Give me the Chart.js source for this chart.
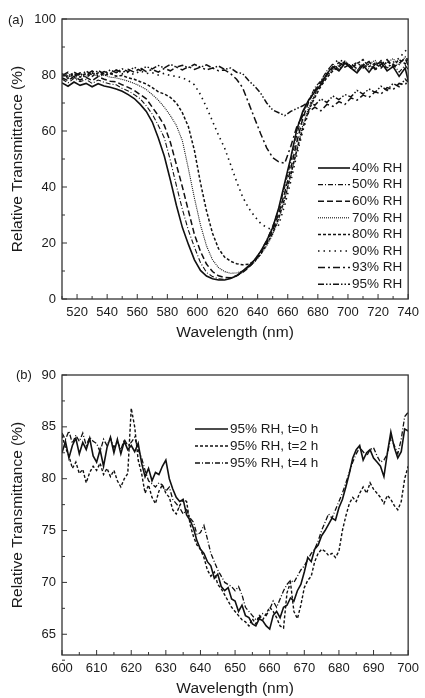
<!DOCTYPE html>
<html>
<head>
<meta charset="utf-8">
<script src="https://cdn.jsdelivr.net/npm/chart.js@4.4.0/dist/chart.umd.min.js"></script>
<style>
  html,body{margin:0;padding:0;background:#fff;}
  .panel{position:absolute;left:0;width:425px;}
  #wrapA{top:0;height:345px;}
  #wrapB{top:345px;height:353px;}
</style>
</head>
<body>
<div class="panel" id="wrapA"><canvas id="chartA"></canvas></div>
<div class="panel" id="wrapB"><canvas id="chartB"></canvas></div>
<script>
// ---- (a) transmittance vs wavelength at different RH ----
const waveA = [510,514,518,522,526,530,534,538,542,546,550,554,558,562,566,570,574,578,582,586,
  590,594,598,602,606,610,614,618,622,626,630,634,638,642,646,650,654,658,662,666,
  670,674,678,682,686,690,694,698,702,706,710,714,718,722,726,730,734,738,740];

const rh40 = [77.2,76.0,77.5,76.3,77.0,75.8,76.9,76.1,75.6,75.0,74.2,73.0,71.6,69.5,67.0,63.2,57.5,51.0,42.5,33.5,
  25.5,19.5,14.0,10.2,8.2,7.2,6.8,6.8,7.3,8.3,10.0,11.8,14.0,17.0,20.8,25.5,32.5,41.5,50.5,60.5,
  67.0,71.2,74.0,76.5,80.5,83.0,81.5,84.2,82.5,80.8,83.5,81.0,83.8,84.5,81.5,83.0,79.5,82.5,78.0];
const rh50 = [78.5,77.2,78.8,77.6,78.4,77.0,78.2,77.4,76.8,76.5,75.2,74.3,73.0,71.5,69.0,66.0,62.0,57.5,49.5,40.5,
  32.0,24.5,18.5,13.0,9.5,8.0,7.2,7.0,7.4,8.2,9.6,11.5,14.0,17.0,21.0,26.0,32.0,40.0,49.0,58.5,
  66.5,71.0,75.5,78.0,81.5,84.0,82.0,84.8,83.2,81.5,84.2,82.0,82.8,85.2,82.5,84.0,81.0,83.5,82.0];
const rh60 = [79.0,78.0,79.5,78.2,79.2,78.0,79.4,78.5,77.8,77.6,76.5,75.6,74.5,73.0,71.5,68.5,65.5,62.0,56.0,48.0,
  40.0,31.5,23.0,17.0,12.5,9.8,8.3,7.7,7.6,8.3,9.5,11.2,13.5,16.5,20.0,24.5,30.5,38.0,46.5,56.0,
  64.5,70.5,74.5,77.5,80.0,82.5,84.5,82.8,84.0,82.2,83.5,84.8,82.0,83.8,85.5,82.8,84.2,86.0,83.5];
const rh70 = [79.5,80.5,79.0,80.2,79.4,80.6,79.5,80.0,79.2,79.0,78.4,77.8,77.0,76.0,74.8,73.0,71.0,68.5,65.5,62.0,
  56.5,46.5,36.0,26.5,19.0,14.0,11.2,9.8,9.2,9.3,10.0,11.3,13.2,15.8,19.0,23.0,28.5,35.5,44.0,53.5,
  62.0,68.5,73.0,76.5,79.5,82.0,83.5,85.0,83.2,84.5,82.5,84.0,85.2,83.0,84.5,85.8,83.5,86.5,85.0];
const rh80 = [80.0,78.8,80.4,79.2,80.6,79.5,80.8,79.8,80.5,79.6,79.8,79.0,78.5,77.6,76.8,75.5,74.0,73.2,72.0,70.0,
  66.5,61.5,53.0,41.5,31.5,23.5,18.0,15.0,13.5,12.6,12.2,12.4,13.6,16.0,19.5,23.5,29.0,36.0,44.5,53.0,
  61.0,67.5,72.0,76.0,79.0,81.5,83.0,84.8,82.5,84.0,85.5,83.0,84.2,82.5,84.8,83.5,85.5,84.0,86.0];
const rh90 = [78.5,79.8,78.2,80.5,79.0,80.8,79.6,81.0,80.2,81.2,80.4,81.0,80.2,81.5,80.5,80.8,80.0,80.6,79.8,79.5,
  79.0,78.0,76.5,73.0,68.5,63.5,58.5,54.0,48.0,42.0,36.5,32.5,29.5,27.0,25.5,24.8,26.5,33.5,42.0,51.5,
  60.0,67.0,73.0,77.5,81.0,84.0,85.5,84.5,83.0,84.5,82.5,84.0,81.8,83.5,82.5,84.5,86.0,88.5,89.5];
const rh93 = [79.8,81.0,79.5,80.8,80.0,81.5,80.2,81.2,80.5,81.8,80.8,82.0,81.0,82.5,81.2,82.0,81.0,82.4,81.5,82.8,
  81.8,83.0,82.0,82.8,81.8,82.5,81.5,81.8,80.5,78.5,75.5,70.0,64.5,59.0,54.0,50.5,49.0,48.5,54.5,61.5,
  65.5,66.8,68.5,67.2,69.5,68.8,70.5,69.5,71.8,71.0,72.8,72.0,74.0,73.2,75.5,74.8,77.0,76.5,78.0];
const rh95 = [80.5,79.2,81.0,79.8,81.4,80.0,81.6,80.4,81.8,80.8,82.2,81.2,82.8,81.6,83.0,82.2,83.4,82.5,83.8,82.8,
  83.5,82.6,83.8,82.8,83.6,82.5,83.2,82.0,82.5,81.0,80.5,78.0,76.0,73.5,70.0,67.5,66.5,65.5,67.0,68.0,
  69.0,70.5,69.2,71.5,70.2,72.5,71.2,73.0,72.2,74.5,73.2,75.0,73.8,76.0,74.5,77.0,75.8,78.5,77.5];

const labelsA = ['40% RH','50% RH','60% RH','70% RH','80% RH','90% RH','93% RH','95% RH'];
const xTicksA = [520,540,560,580,600,620,640,660,680,700,720,740];
const xMinorA = [510,530,550,570,590,610,630,650,670,690,710,730];
const yTicksA = [0,20,40,60,80,100];
const yMinorA = [10,30,50,70,90];

// ---- (b) 95% RH held for 0, 2 and 4 h ----
const waveB = [600,601,602,603,604,605,606,607,608,609,610,611,612,613,614,615,616,617,618,619,
  620,621,622,623,624,625,626,627,628,629,630,631,632,633,634,635,636,637,638,639,
  640,641,642,643,644,645,646,647,648,649,650,651,652,653,654,655,656,657,658,659,
  660,661,662,663,664,665,666,667,668,669,670,671,672,673,674,675,676,677,678,679,
  680,681,682,683,684,685,686,687,688,689,690,691,692,693,694,695,696,697,698,699,700];

const t0h = [82.5,83.6,82.0,83.2,83.9,82.4,83.5,82.8,83.9,82.2,81.6,82.8,81.2,83.0,84.0,82.5,83.8,82.4,83.6,82.8,
  83.2,82.6,83.4,81.5,80.2,81.0,79.8,80.6,80.4,81.2,81.8,80.0,79.0,78.2,77.8,78.0,76.5,76.0,75.2,74.0,
  73.2,72.8,72.0,71.6,70.4,70.8,69.6,69.2,69.5,68.4,68.2,67.2,67.8,66.8,66.6,66.0,65.8,66.5,66.3,65.8,
  65.5,66.8,67.2,66.6,67.6,67.8,68.5,68.2,69.2,69.8,71.0,72.4,72.0,73.2,73.6,74.5,75.0,75.6,76.2,76.0,
  77.2,78.0,79.2,80.5,82.0,82.8,83.2,81.8,82.5,82.8,82.0,81.6,81.2,80.2,82.5,84.5,83.0,82.0,82.6,84.8,84.6];
const t2h = [84.2,83.0,82.2,81.0,81.6,80.5,80.9,79.6,80.6,81.2,80.8,81.5,80.4,81.0,80.2,80.8,79.8,79.2,80.0,80.5,
  86.8,85.0,81.8,80.5,78.6,79.4,78.2,77.6,78.8,79.4,78.6,78.2,77.0,76.6,77.4,78.0,77.8,75.6,74.4,73.6,
  73.2,72.4,71.2,70.6,71.0,69.8,69.4,68.8,68.2,67.6,67.2,66.8,66.4,66.2,65.8,66.5,66.0,66.8,66.4,67.0,
  67.6,67.2,66.6,65.8,65.6,69.0,70.0,67.2,66.5,67.8,69.5,70.2,70.6,72.0,72.8,73.2,73.0,72.6,72.8,72.4,
  73.0,75.0,76.4,77.6,78.2,77.8,78.6,79.2,78.6,79.6,79.0,78.6,78.2,77.6,78.4,78.0,77.4,77.0,77.8,80.0,81.2];
const t4h = [84.4,83.8,84.6,83.4,84.2,83.6,84.4,83.2,84.0,83.6,83.4,82.6,83.8,83.2,83.9,83.0,83.6,82.8,83.8,83.2,
  83.5,84.0,82.8,82.0,80.8,79.8,79.5,79.2,79.6,79.4,78.8,79.2,78.0,77.6,77.2,76.6,77.0,76.2,75.8,74.6,
  74.8,75.5,74.2,72.8,72.0,71.2,70.6,70.0,69.8,69.6,69.2,69.6,68.8,67.6,67.2,66.8,66.4,66.6,67.0,66.8,
  67.4,68.2,67.6,68.4,69.2,69.8,70.2,70.0,70.6,71.2,71.6,72.2,72.8,73.2,74.0,75.0,75.8,76.6,76.2,77.0,
  77.8,78.6,79.6,80.6,81.6,82.4,83.0,82.6,82.2,82.8,83.0,82.2,81.6,81.8,82.4,84.0,83.2,82.4,83.8,86.0,86.4];

const labelsB = ['95% RH, t=0 h','95% RH, t=2 h','95% RH, t=4 h'];
const xTicksB = [600,610,620,630,640,650,660,670,680,690,700];
const xMinorB = [605,615,625,635,645,655,665,675,685,695];
const yTicksB = [65,70,75,80,85,90];
const yMinorB = [62.5,67.5,72.5,77.5,82.5,87.5];

// line styles, black only
const dashA = [[], [5,2,1,2], [6,3], [1,1], [3,2], [1.5,4], [7,3,2,3], [6,2,1.5,2,1.5,2]];
const widthA = [1.6,1.1,1.5,1.1,1.5,1.6,1.5,1.5];
const dashB = [[], [3,2], [5,2,1,2]];

const FONT = 'Arial, "Liberation Sans", sans-serif';
const INK = '#1a1a1a';

function toXY(xs, ys){ return xs.map((x,i)=>({x:x, y:ys[i]})); }

// box frame, inward ticks, legend and panel letter
const framePlugin = {
  id: 'frame',
  afterDatasetsDraw(chart, args, o){
    const ctx = chart.ctx, a = chart.chartArea, sx = chart.scales.x, sy = chart.scales.y;
    ctx.save();
    ctx.strokeStyle = '#333'; ctx.lineWidth = 1.3; ctx.setLineDash([]);
    ctx.strokeRect(a.left, a.top, a.right-a.left, a.bottom-a.top);
    ctx.lineWidth = 1;
    const xt = (vals,len)=>vals.forEach(v=>{const p=sx.getPixelForValue(v);ctx.beginPath();ctx.moveTo(p,a.bottom);ctx.lineTo(p,a.bottom-len);ctx.stroke();});
    const yt = (vals,len)=>vals.forEach(v=>{const p=sy.getPixelForValue(v);ctx.beginPath();ctx.moveTo(a.left,p);ctx.lineTo(a.left+len,p);ctx.stroke();});
    xt(o.xMajor,5); xt(o.xMinor,3); yt(o.yMajor,5); yt(o.yMinor,3);

    // legend inside the plot
    ctx.font = '13.5px ' + FONT; ctx.fillStyle = INK; ctx.textBaseline = 'middle';
    chart.data.datasets.forEach((ds,i)=>{
      const y = o.legY + i*o.legGap;
      ctx.strokeStyle = '#111'; ctx.lineWidth = ds.borderWidth;
      ctx.setLineDash(ds.borderDash || []);
      ctx.beginPath(); ctx.moveTo(o.legX, y); ctx.lineTo(o.legX+o.legLen, y); ctx.stroke();
      ctx.fillText(ds.label, o.legX+o.legLen+2, y);
    });
    ctx.setLineDash([]);
    ctx.font = '13px ' + FONT;
    ctx.fillText(o.tag, o.tagX, o.tagY);
    ctx.restore();
  }
};

function axisOpts(min, max, tickVals, title, isX, boxSize, titleBottom){
  return {
    type:'linear', min:min, max:max,
    grid:{display:false, drawTicks:false}, border:{display:false},
    afterBuildTicks: s => { s.ticks = tickVals.map(v=>({value:v})); },
    afterFit: s => { if(isX) s.height = boxSize; else s.width = boxSize; },
    ticks:{color:INK, font:{family:FONT, size:13}, padding:6},
    title:{display:true, text:title, color:INK, font:{family:FONT, size:15.5},
      padding: isX ? {top:2,bottom:titleBottom} : {top:0,bottom:0}}
  };
}

function makeChart(id, xs, series, labels, dashes, widths, xr, yr, xTicks, yTicks, pad, xH, yW, titleBottom, frameOpts){
  return new Chart(document.getElementById(id), {
    type:'line',
    data:{datasets: series.map((s,i)=>({
      label:labels[i], data:toXY(xs,s), borderColor:'#111', borderWidth:widths[i],
      borderDash:dashes[i], pointRadius:0, tension:0, fill:false
    }))},
    options:{
      responsive:true, maintainAspectRatio:false, animation:false, devicePixelRatio:1,
      layout:{padding:pad},
      plugins:{legend:{display:false}, tooltip:{enabled:false}, frame:frameOpts},
      scales:{
        x: axisOpts(xr[0], xr[1], xTicks, 'Wavelength (nm)', true, xH, titleBottom),
        y: axisOpts(yr[0], yr[1], yTicks, 'Relative Transmittance (%)', false, yW, 0)
      }
    },
    plugins:[framePlugin]
  });
}

makeChart('chartA', waveA, [rh40,rh50,rh60,rh70,rh80,rh90,rh93,rh95], labelsA, dashA, widthA,
  [510,740], [0,100], xTicksA, yTicksA,
  {left:8, right:12, top:19, bottom:0}, 46, 54, 3,
  {xMajor:xTicksA, xMinor:xMinorA, yMajor:yTicksA, yMinor:yMinorA,
   legX:318, legY:168, legGap:16.6, legLen:32, tag:'(a)', tagX:8, tagY:20});

makeChart('chartB', waveB, [t0h,t2h,t4h], labelsB, dashB, [1.6,1.4,1.3],
  [600,700], [63,90], xTicksB, yTicksB,
  {left:8, right:12, top:30, bottom:0}, 43, 54, 0,
  {xMajor:xTicksB, xMinor:xMinorB, yMajor:yTicksB, yMinor:yMinorB,
   legX:195, legY:84, legGap:17, legLen:33, tag:'(b)', tagX:16, tagY:30});
</script>
</body>
</html>
